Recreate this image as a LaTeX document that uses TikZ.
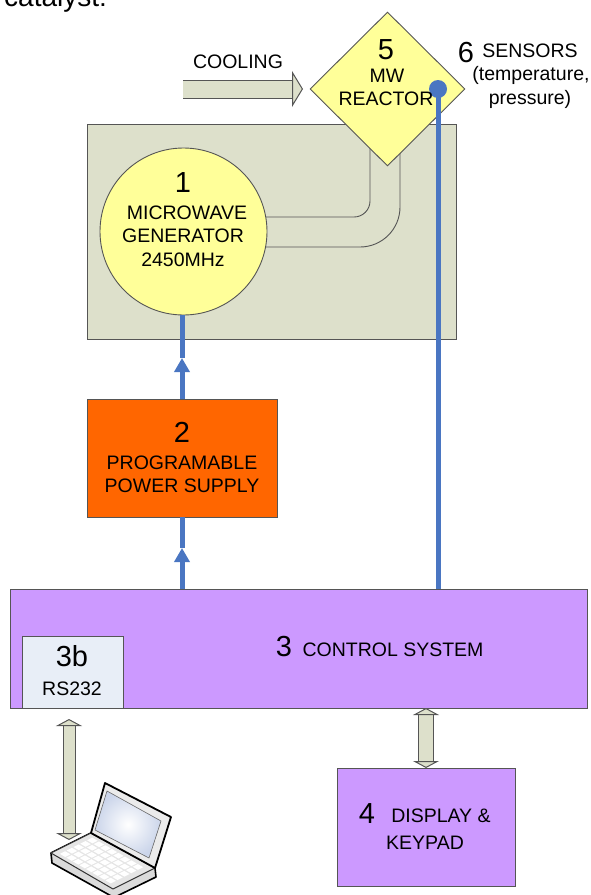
\documentclass[tikz,border=0pt]{standalone}
\usepackage{fontspec}
\setmainfont{Liberation Sans}
\usetikzlibrary{arrows.meta,shapes.geometric}
\definecolor{boxgreen}{HTML}{DDE0CB}
\definecolor{paleyellow}{HTML}{FFFF99}
\definecolor{supplyorange}{HTML}{FF6600}
\definecolor{ctrlviolet}{HTML}{CC99FF}
\definecolor{portblue}{HTML}{E8EEF7}
\definecolor{wireblue}{HTML}{4A76C2}
\definecolor{edgegray}{HTML}{555555}
\definecolor{screenblue}{HTML}{CBD5EA}
\tikzset{
  block/.style={draw=edgegray, line width=0.9pt, inner sep=0pt},
  txt/.style={inner sep=0pt, font=\fontsize{19.5}{21}\selectfont},
  num/.style={inner sep=0pt, font=\fontsize{29}{31}\selectfont},
  wire/.style={wireblue, line width=5pt},
  wirehead/.style={wire, -{Triangle[length=14pt,width=15pt]}},
  fatarrow/.style={draw=edgegray, line width=1pt, double=boxgreen, double distance=#1},
  fathead/.tip={Triangle[length=7pt,width=26pt,line width=1pt,fill=boxgreen]},
  guide/.style={edgegray, line width=0.9pt, rounded corners=#1}
}
\begin{document}
\begin{tikzpicture}[x=1pt, y=-1pt]
  \path[use as bounding box, clip] (0, 0) rectangle (591, 895);

  \node[anchor=base west, inner sep=0pt, font=\fontsize{28}{30}\selectfont] (catalyst) at (4, 6) {catalyst:};

  % boxes
  \node[block, fill=boxgreen, minimum width=369pt, minimum height=215pt] (oven) at (271.5, 231.5) {};
  \node[block, fill=supplyorange, minimum width=190pt, minimum height=118pt] (supply) at (182, 458) {};
  \node[block, fill=ctrlviolet, minimum width=577pt, minimum height=119pt] (control) at (298.5, 648.5) {};
  \node[block, fill=portblue, minimum width=101pt, minimum height=72pt] (rs) at (72.5, 672) {};
  \node[block, fill=ctrlviolet, minimum width=178pt, minimum height=118pt] (display) at (426, 827) {};

  % waveguide behind generator and reactor
  \coordinate (ina) at (240, 217);
  \coordinate (inb) at (240, 247);
  \coordinate (outa) at (370, 130);
  \coordinate (outb) at (400, 130);
  \draw[guide=16pt] (ina) -| (outa);
  \draw[guide=40pt] (inb) -| (outb);

  \node[block, circle, fill=paleyellow, minimum size=167pt] (gen) at (183.5, 231.5) {};
  \node[block, diamond, aspect=1, fill=paleyellow, minimum width=155pt, minimum height=154pt] (reactor) at (387.5, 89) {};
  \node[circle, fill=wireblue, inner sep=0pt, minimum size=18pt] (dot) at (438, 89) {};

  % wires
  \coordinate (upa) at (182, 358);
  \coordinate (upb) at (182, 548);
  \draw[wirehead] (supply.north) -- (upa);
  \draw[wire] (upa) -- (upa |- gen.south);
  \draw[wirehead] (supply.south |- control.north) -- (upb);
  \draw[wire] (upb) -- (supply.south);
  \draw[wire] (dot |- control.north) -- (dot.center);

  % block arrows
  \coordinate (coola) at (183, 89);
  \coordinate (coolb) at (303, 89);
  \coordinate (lapa) at (69, 840);
  \coordinate (lapb) at (69, 719);
  \coordinate (dispa) at (426, 768);
  \coordinate (dispb) at (426, 708);
  \draw[fatarrow=17pt, -{Triangle[length=11pt,width=36pt,line width=1pt,fill=boxgreen]}] (coola) -- (coolb);
  \draw[fatarrow=11pt, fathead-fathead] (lapa) -- (lapb);
  \draw[fatarrow=14pt, fathead-fathead] (dispa) -- (dispb);

  % texts
  \node[txt] (cooling) at (238, 62) {COOLING};
  \node[num] (five) at (386, 50) {5};
  \node[txt] (mw) at (387, 76) {MW};
  \node[txt] (reactortxt) at (386, 99) {REACTOR};
  \node[num] (six) at (466, 53) {6};
  \node[txt] (sensors) at (530, 51) {SENSORS};
  \node[txt] (temp) at (531, 75) {(temperature,};
  \node[txt] (press) at (530, 99) {pressure)};
  \node[num] (one) at (183, 183) {1};
  \node[txt] (micro) at (187, 213) {MICROWAVE};
  \node[txt] (generator) at (183, 236) {GENERATOR};
  \node[txt] (freq) at (183, 260) {2450MHz};
  \node[num] (two) at (182, 432) {2};
  \node[txt] (prog) at (182, 463) {PROGRAMABLE};
  \node[txt] (power) at (182, 486) {POWER SUPPLY};
  \node[num] (three) at (284, 647) {3};
  \node[txt] (ctrl) at (393, 650) {CONTROL SYSTEM};
  \node[num] (threeb) at (72, 656) {3b};
  \node[txt] (serial) at (72, 689) {RS232};
  \node[num] (four) at (367, 814) {4};
  \node[txt] (disp) at (441, 816) {DISPLAY \&};
  \node[txt] (keypad) at (425, 843) {KEYPAD};

  % laptop
  \draw[fill=black!14, line width=1.6pt, line join=round] (51, 853) -- (52, 863) -- (113, 897) -- (115, 897) -- (156, 877) -- (155, 868) -- (91, 833) -- cycle;
  \fill[black!10, draw=black!80, line width=1pt, line join=round] (51, 853) -- (91, 833) -- (155, 868) -- (113, 889) -- cycle;
  \foreach \i in {0,...,7} {
    \foreach \j in {0,...,4} {
      \fill[white] (51+40*0.1+40*0.17*\j+62*0.08+62*0.105*\i, 853-20*0.1-20*0.17*\j+36*0.08+36*0.105*\i) -- ++(5.2, -2.6) -- ++(5.3, 3.1) -- ++(-5.2, 2.6) -- cycle;
    }
  }
  \draw[fill=black!8, line width=1.8pt, line join=round] (91, 833) -- (105, 783) -- (171, 817) -- (155, 868) -- cycle;
  \shade[inner color=white, outer color=screenblue, draw=black!60, line width=0.6pt] (95, 830) -- (107, 791) -- (161, 821) -- (149, 858) -- cycle;
\end{tikzpicture}
\end{document}
